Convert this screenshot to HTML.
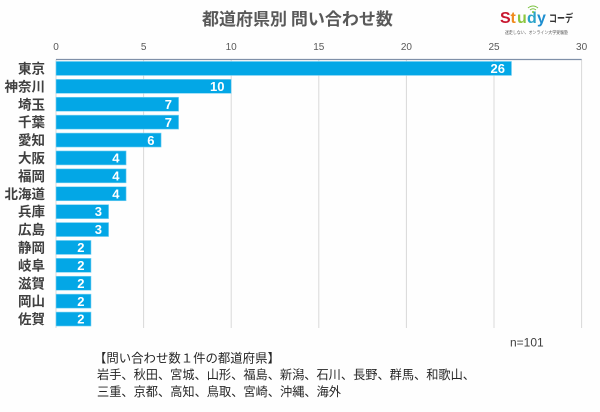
<!DOCTYPE html>
<html><head><meta charset="utf-8"><style>
html,body{margin:0;padding:0;background:#fff;}
svg{display:block;}
text{font-family:"Liberation Sans","Noto Sans CJK JP",sans-serif;}
.jp{font-family:"Noto Sans CJK JP","Liberation Sans",sans-serif;}
</style></head><body>
<svg width="600" height="412" viewBox="0 0 600 412" xmlns="http://www.w3.org/2000/svg">
<rect width="600" height="412" fill="#fefefe"/>
<!-- title -->
<text x="202" y="25" class="jp" font-size="17" font-weight="bold" fill="#595959">都道府県別 問い合わせ数</text>
<!-- logo -->
<g font-weight="bold" font-size="16">
<text x="500" y="23" fill="#c8172f">S</text>
<text x="510.5" y="23" fill="#f08a1c">t</text>
<text x="517" y="23" fill="#8cc63f">u</text>
<text x="527" y="23" fill="#2aa3c9">d</text>
<text x="537" y="23" fill="#1f8fd0">y</text>
</g>
<path d="M528 8 q5 -4 10 0 M530 10 q3 -2.5 6 0" stroke="#7cc242" stroke-width="1" fill="none"/>
<circle cx="533" cy="12" r="1" fill="#7cc242"/>
<text x="549" y="22" class="jp" font-size="11" font-weight="bold" fill="#333" textLength="24" lengthAdjust="spacingAndGlyphs">コーデ</text>
<text x="505" y="34" class="jp" font-size="4.6" fill="#555" textLength="63" lengthAdjust="spacingAndGlyphs">迷走しない、オンライン大学受験塾</text>
<!-- tick labels -->
<g font-size="10" fill="#595959" text-anchor="middle">
<text x="56" y="50">0</text>
<text x="143.6" y="50">5</text>
<text x="231.2" y="50">10</text>
<text x="318.8" y="50">15</text>
<text x="406.4" y="50">20</text>
<text x="494" y="50">25</text>
<text x="581.6" y="50">30</text>
</g>
<!-- gridlines -->
<g stroke="#d9d9d9" stroke-width="1">
<line x1="56" y1="59.5" x2="56" y2="328"/>
<line x1="143.6" y1="59.5" x2="143.6" y2="328"/>
<line x1="231.2" y1="59.5" x2="231.2" y2="328"/>
<line x1="318.8" y1="59.5" x2="318.8" y2="328"/>
<line x1="406.4" y1="59.5" x2="406.4" y2="328"/>
<line x1="494" y1="59.5" x2="494" y2="328"/>
<line x1="581.6" y1="59.5" x2="581.6" y2="328"/>
</g>
<line x1="56" y1="59.5" x2="581.6" y2="59.5" stroke="#7f90a8" stroke-width="1.2"/>
<!-- bars -->
<g fill="#03a7e6" stroke="#7fd3f3" stroke-width="0.6">
<rect x="56" y="61.45" width="455.5" height="14"/>
<rect x="56" y="79.35" width="175.2" height="14"/>
<rect x="56" y="97.25" width="122.6" height="14"/>
<rect x="56" y="115.15" width="122.6" height="14"/>
<rect x="56" y="133.05" width="105.1" height="14"/>
<rect x="56" y="150.95" width="70.1" height="14"/>
<rect x="56" y="168.85" width="70.1" height="14"/>
<rect x="56" y="186.75" width="70.1" height="14"/>
<rect x="56" y="204.65" width="52.6" height="14"/>
<rect x="56" y="222.55" width="52.6" height="14"/>
<rect x="56" y="240.45" width="35" height="14"/>
<rect x="56" y="258.35" width="35" height="14"/>
<rect x="56" y="276.25" width="35" height="14"/>
<rect x="56" y="294.15" width="35" height="14"/>
<rect x="56" y="312.05" width="35" height="14"/>
</g>
<!-- value labels -->
<g font-size="13" font-weight="bold" fill="#ffffff" text-anchor="end">
<text x="505" y="73">26</text>
<text x="224.5" y="91">10</text>
<text x="172" y="109">7</text>
<text x="172" y="127">7</text>
<text x="154.5" y="145">6</text>
<text x="119.5" y="162.5">4</text>
<text x="119.5" y="180.5">4</text>
<text x="119.5" y="198.5">4</text>
<text x="102" y="216">3</text>
<text x="102" y="234">3</text>
<text x="84.5" y="252">2</text>
<text x="84.5" y="270">2</text>
<text x="84.5" y="288">2</text>
<text x="84.5" y="306">2</text>
<text x="84.5" y="323.5">2</text>
</g>
<!-- category labels -->
<g class="jp" font-size="13.5" font-weight="bold" fill="#404040" text-anchor="end">
<text x="45" y="73.5">東京</text>
<text x="45" y="91.4">神奈川</text>
<text x="45" y="109.3">埼玉</text>
<text x="45" y="127.2">千葉</text>
<text x="45" y="145.1">愛知</text>
<text x="45" y="163">大阪</text>
<text x="45" y="180.9">福岡</text>
<text x="45" y="198.8">北海道</text>
<text x="45" y="216.7">兵庫</text>
<text x="45" y="234.6">広島</text>
<text x="45" y="252.5">静岡</text>
<text x="45" y="270.4">岐阜</text>
<text x="45" y="288.3">滋賀</text>
<text x="45" y="306.2">岡山</text>
<text x="45" y="324.1">佐賀</text>
</g>
<!-- notes -->
<text x="510" y="346.5" font-size="12" fill="#404040">n=101</text>
<g class="jp" font-size="12.4" fill="#262626">
<text x="94" y="362.5">【問い合わせ数１件の都道府県】</text>
<text x="97" y="379" textLength="378" lengthAdjust="spacingAndGlyphs">岩手、秋田、宮城、山形、福島、新潟、石川、長野、群馬、和歌山、</text>
<text x="97" y="396" textLength="244" lengthAdjust="spacingAndGlyphs">三重、京都、高知、鳥取、宮崎、沖縄、海外</text>
</g>
</svg>
</body></html>
